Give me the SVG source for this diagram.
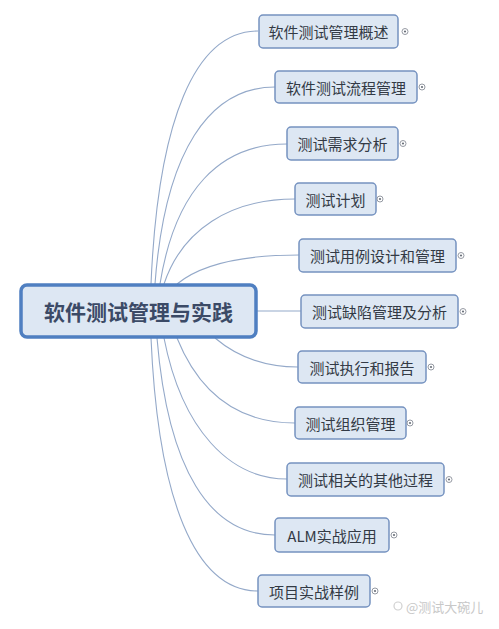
<svg xmlns="http://www.w3.org/2000/svg" width="499" height="629" viewBox="0 0 499 629">
<style>
.bg{fill:#ffffff}
.conn path{fill:none;stroke:#94a9c9;stroke-width:1.1}
.box{fill:#dde7f3;stroke:#7592c0;stroke-width:1.5}
.main{fill:#dde7f3;stroke:#4f7fc1;stroke-width:3.5}
.t{font-family:"Noto Sans CJK SC","Liberation Sans",sans-serif;font-size:15px;fill:#333a45;dominant-baseline:central}
.mt{font-family:"Noto Sans CJK SC","Liberation Sans",sans-serif;font-size:21px;font-weight:bold;fill:#3b4a66;dominant-baseline:central}
.knob{fill:#ffffff;stroke:#8a8f99;stroke-width:0.9}
.dot{fill:#6a707a}
.wm{font-family:"Noto Sans CJK SC","Liberation Sans",sans-serif;font-size:13px;fill:#c8c8c8;dominant-baseline:central}
</style>
<rect class="bg" x="0" y="0" width="499" height="629"/>
<g id="connectors" class="conn">
<path d="M151,284 C158,120 195,31 258,31"/>
<path d="M155,284 C165,150 210,87 275,87"/>
<path d="M160,284 C175,190 220,144 287,144"/>
<path d="M164,284 C182,230 230,199 295,199"/>
<path d="M177,284 C200,265 240,255 299,255"/>
<path d="M257,311 L301,311"/>
<path d="M215,338 C235,355 260,367 298,367"/>
<path d="M177,338 C200,395 240,423 295,423"/>
<path d="M164,338 C182,430 230,479 287,479"/>
<path d="M157,338 C168,470 210,535 275,535"/>
<path d="M151,338 C158,500 195,591 258,591"/>
</g>
<g id="root">
<rect class="main" x="21" y="285" width="235" height="52" rx="6"/>
<text class="mt" x="138.5" y="311" text-anchor="middle">软件测试管理与实践</text>
</g>
<g id="n1"><rect class="box" x="259" y="15" width="139" height="33" rx="4"/><text class="t" x="328.5" y="31.5" text-anchor="middle">软件测试管理概述</text><circle class="knob" cx="405" cy="31.5" r="3"/><circle class="dot" cx="405" cy="31.5" r="1.1"/></g>
<g id="n2"><rect class="box" x="275" y="71" width="142" height="32" rx="4"/><text class="t" x="346" y="87" text-anchor="middle">软件测试流程管理</text><circle class="knob" cx="422" cy="87" r="3"/><circle class="dot" cx="422" cy="87" r="1.1"/></g>
<g id="n3"><rect class="box" x="287" y="127" width="111" height="33" rx="4"/><text class="t" x="342.5" y="143.5" text-anchor="middle">测试需求分析</text><circle class="knob" cx="403" cy="143.5" r="3"/><circle class="dot" cx="403" cy="143.5" r="1.1"/></g>
<g id="n4"><rect class="box" x="295" y="183" width="81" height="32" rx="4"/><text class="t" x="335.5" y="199" text-anchor="middle">测试计划</text><circle class="knob" cx="380" cy="199" r="3"/><circle class="dot" cx="380" cy="199" r="1.1"/></g>
<g id="n5"><rect class="box" x="299" y="239" width="157" height="33" rx="4"/><text class="t" x="377.5" y="255.5" text-anchor="middle">测试用例设计和管理</text><circle class="knob" cx="461" cy="255.5" r="3"/><circle class="dot" cx="461" cy="255.5" r="1.1"/></g>
<g id="n6"><rect class="box" x="301" y="295" width="157" height="33" rx="4"/><text class="t" x="379.5" y="311.5" text-anchor="middle">测试缺陷管理及分析</text><circle class="knob" cx="463" cy="311.5" r="3"/><circle class="dot" cx="463" cy="311.5" r="1.1"/></g>
<g id="n7"><rect class="box" x="298" y="351" width="128" height="32" rx="4"/><text class="t" x="362" y="367" text-anchor="middle">测试执行和报告</text><circle class="knob" cx="431" cy="367" r="3"/><circle class="dot" cx="431" cy="367" r="1.1"/></g>
<g id="n8"><rect class="box" x="295" y="407" width="111" height="32" rx="4"/><text class="t" x="350.5" y="423" text-anchor="middle">测试组织管理</text><circle class="knob" cx="410" cy="423" r="3"/><circle class="dot" cx="410" cy="423" r="1.1"/></g>
<g id="n9"><rect class="box" x="287" y="463" width="157" height="33" rx="4"/><text class="t" x="365.5" y="479.5" text-anchor="middle">测试相关的其他过程</text><circle class="knob" cx="449" cy="479.5" r="3"/><circle class="dot" cx="449" cy="479.5" r="1.1"/></g>
<g id="n10"><rect class="box" x="275" y="518" width="114" height="34" rx="4"/><text class="t" x="332" y="535" text-anchor="middle">ALM实战应用</text><circle class="knob" cx="394" cy="535" r="3"/><circle class="dot" cx="394" cy="535" r="1.1"/></g>
<g id="n11"><rect class="box" x="258" y="575" width="112" height="32" rx="4"/><text class="t" x="314" y="591" text-anchor="middle">项目实战样例</text><circle class="knob" cx="375" cy="591" r="3"/><circle class="dot" cx="375" cy="591" r="1.1"/></g>
<g id="watermark">
<circle cx="398" cy="606" r="4" fill="none" stroke="#d0d0d0" stroke-width="1.2"/>
<text class="wm" x="406" y="606">@测试大碗儿</text>
</g>
</svg>
